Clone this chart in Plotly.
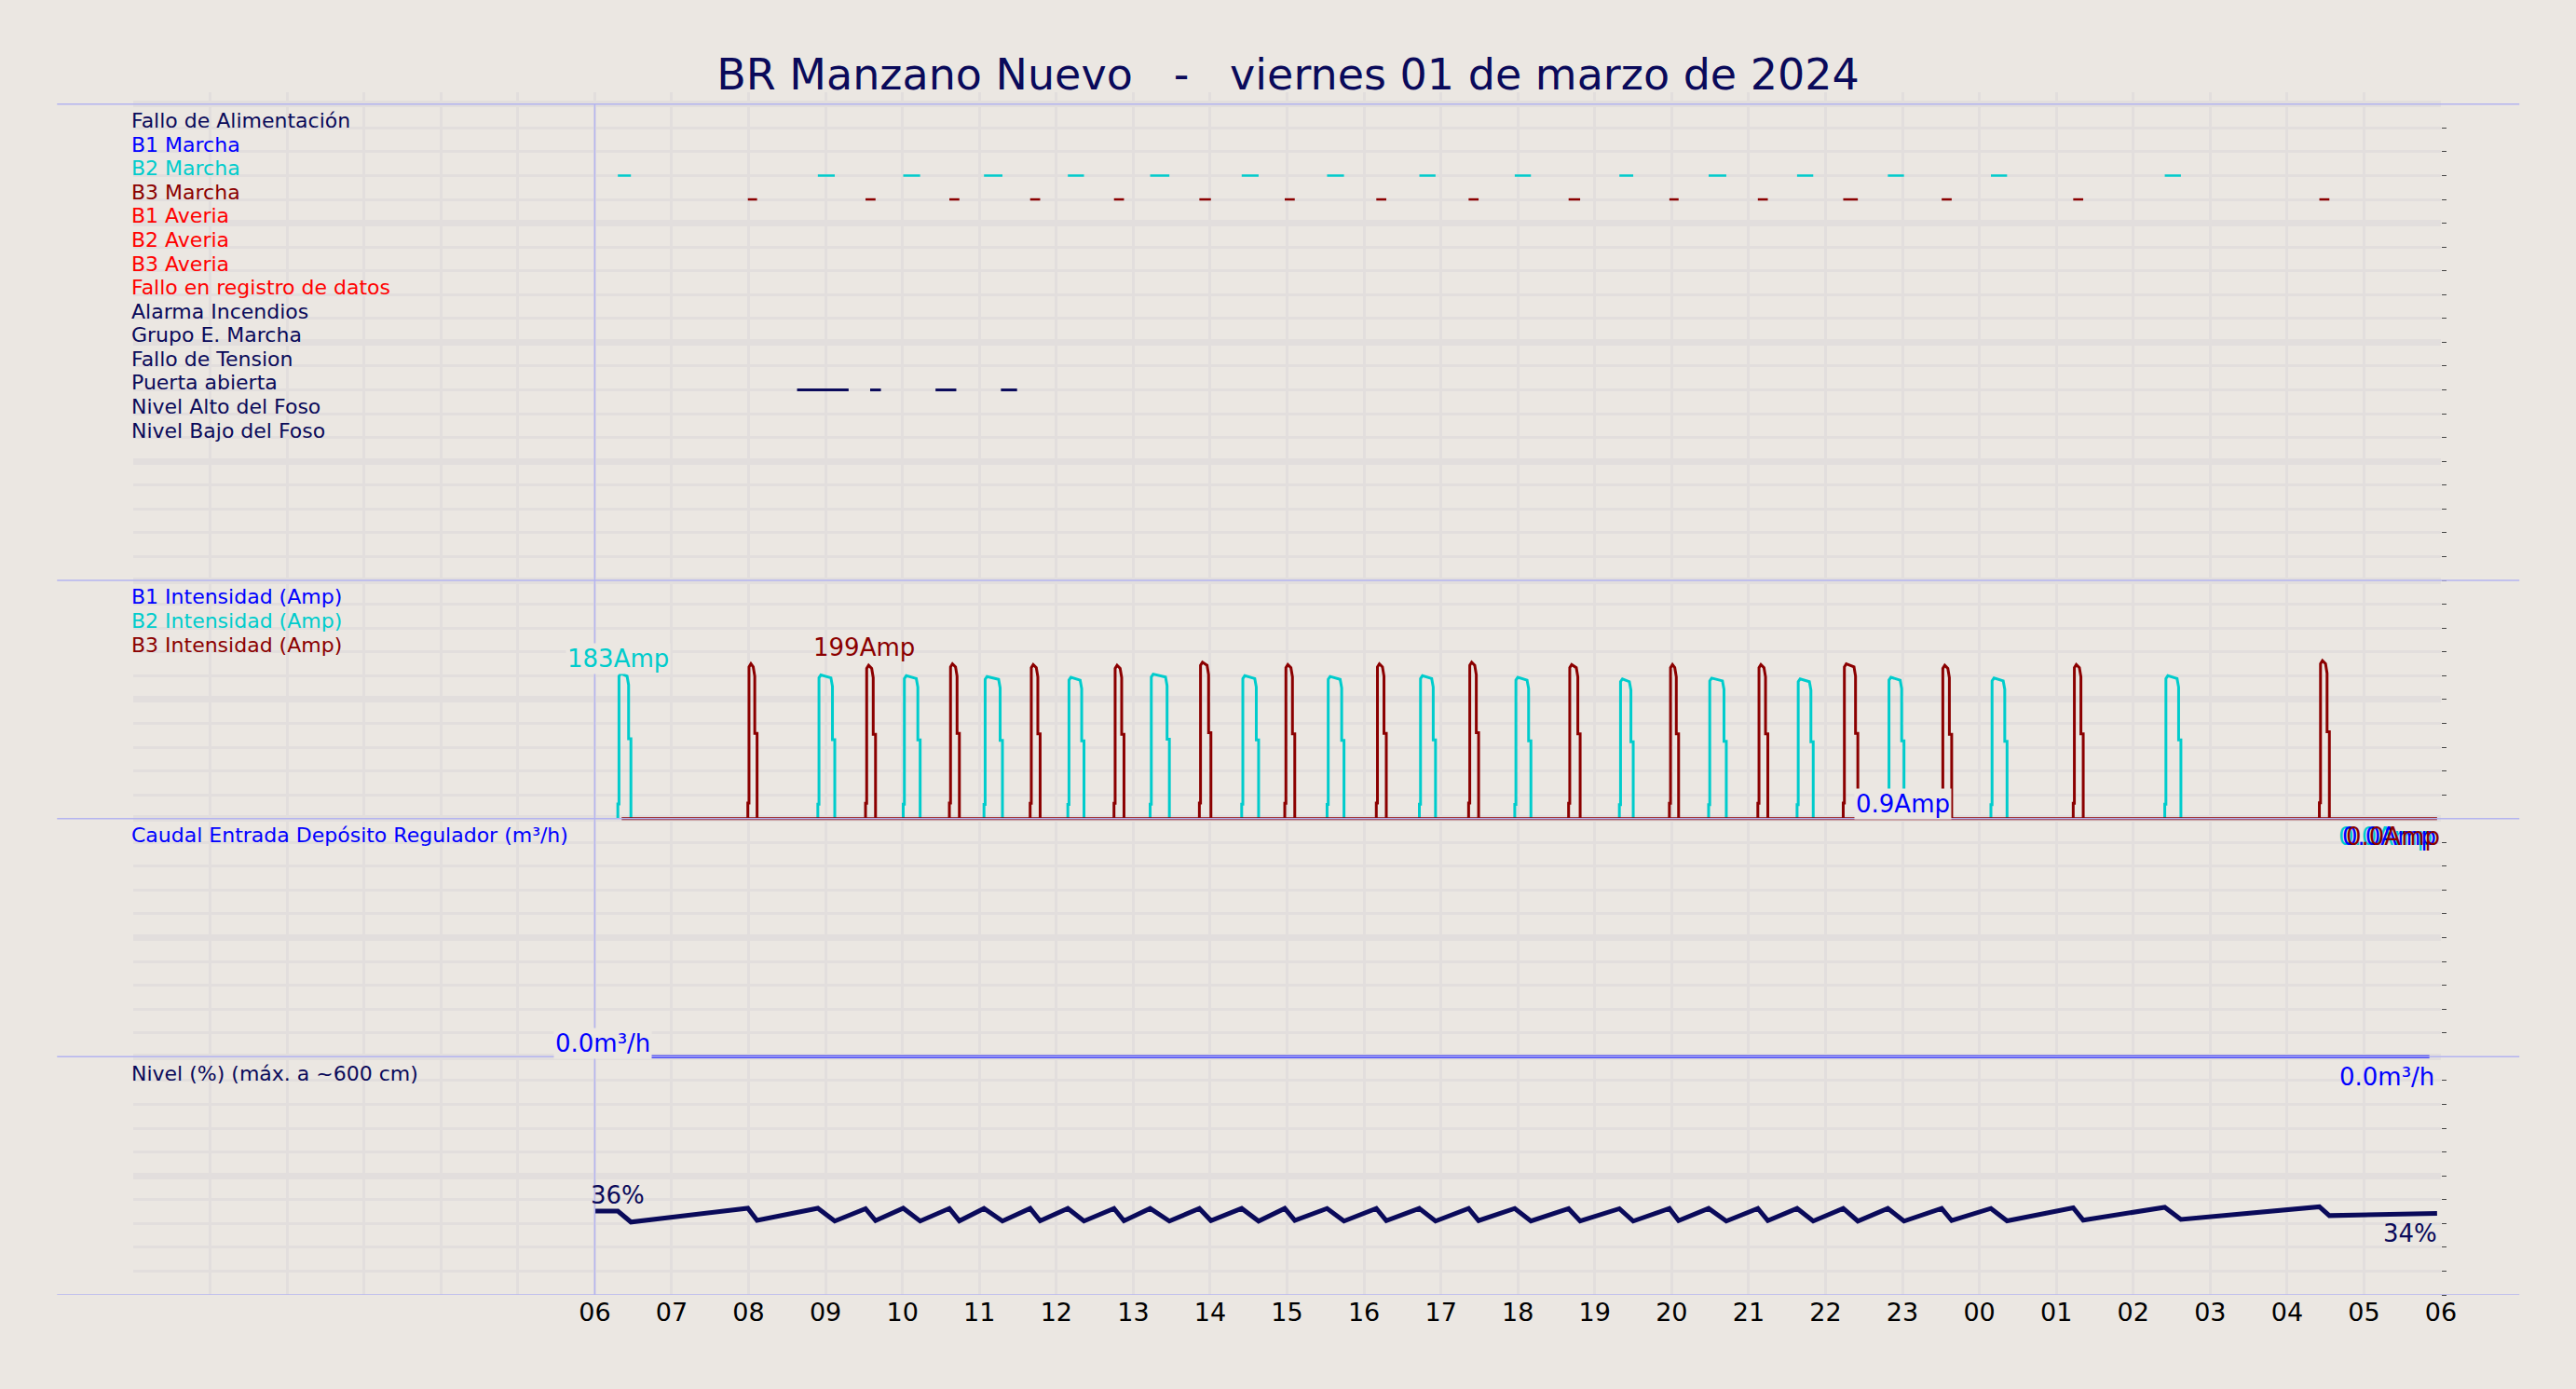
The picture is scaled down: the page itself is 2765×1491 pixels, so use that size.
import plotly.graph_objects as go

# hours counted from 00:00 of 01/03/2024 (x range 0..30)
b2_start = [6.30, 8.90, 10.01, 11.06, 12.15, 13.22, 14.41, 15.52, 16.72, 17.96, 19.32, 20.48, 21.63, 22.81, 24.15, 26.41]
b2_end = [6.47, 9.12, 10.23, 11.30, 12.36, 13.47, 14.63, 15.74, 16.93, 18.17, 19.50, 20.71, 21.84, 23.02, 24.36, 26.62]
b2_amp = [183, 181, 180, 179, 178, 182, 180, 179, 180, 178, 176, 177, 176, 178, 177, 180]

b3_start = [7.99, 9.52, 10.61, 11.66, 12.75, 13.86, 14.97, 16.16, 17.36, 18.66, 19.97, 21.12, 22.23, 23.51, 25.22, 28.42]
b3_end = [8.11, 9.65, 10.74, 11.79, 12.88, 14.01, 15.10, 16.29, 17.49, 18.81, 20.09, 21.25, 22.42, 23.64, 25.35, 28.55]
b3_amp = [195, 193, 195, 194, 193, 197, 194, 195, 197, 194, 194, 194, 195, 193, 194, 199]

puerta_start = [8.63, 9.58, 10.43, 11.28]
puerta_end = [9.30, 9.72, 10.70, 11.49]

nivel_t = [6.00, 6.30, 6.47, 7.99, 8.11, 8.90, 9.12, 9.52, 9.65, 10.01, 10.23, 10.61, 10.74, 11.06, 11.30,
           11.66, 11.79, 12.15, 12.36, 12.75, 12.88, 13.22, 13.47, 13.86, 14.01, 14.41, 14.63, 14.97, 15.10,
           15.52, 15.74, 16.16, 16.29, 16.72, 16.93, 17.36, 17.49, 17.96, 18.17, 18.66, 18.81, 19.32, 19.50,
           19.97, 20.09, 20.48, 20.71, 21.12, 21.25, 21.63, 21.84, 22.23, 22.42, 22.81, 23.02, 23.51, 23.64,
           24.15, 24.36, 25.22, 25.35, 26.41, 26.62, 28.42, 28.55, 29.95]
nivel_v = [35.2, 35.2, 30.6, 36.4, 31.3, 36.4, 31.0, 36.2, 31.2, 36.4, 31.0, 36.3, 31.1, 36.3, 31.0,
           36.3, 31.1, 36.3, 31.0, 36.3, 31.1, 36.3, 31.0, 36.3, 31.2, 36.3, 31.0, 36.3, 31.3,
           36.3, 31.0, 36.3, 31.2, 36.3, 31.0, 36.3, 31.2, 36.3, 31.0, 36.2, 31.0, 36.2, 31.0,
           36.3, 31.2, 36.3, 31.0, 36.3, 31.2, 36.3, 31.0, 36.3, 31.0, 36.3, 31.0, 36.3, 31.2,
           36.3, 31.1, 36.6, 31.4, 36.8, 31.7, 37.0, 33.3, 34.2]

caudal_t = [6.65, 29.85]
caudal_v = [0.0, 0.0]

señales = ["Fallo de Alimentación", "B1 Marcha", "B2 Marcha", "B3 Marcha", "B1 Averia", "B2 Averia",
           "B3 Averia", "Fallo en registro de datos", "Alarma Incendios", "Grupo E. Marcha",
           "Fallo de Tension", "Puerta abierta", "Nivel Alto del Foso", "Nivel Bajo del Foso"]
señal_col = ["#0a0a5a", "blue", "#00cccc", "#8b0000", "red", "red", "red", "red",
             "#0a0a5a", "#0a0a5a", "#0a0a5a", "#0a0a5a", "#0a0a5a", "#0a0a5a"]

hour_ticks = list(range(6, 31))
hour_labels = ["%02d" % (h % 24) for h in hour_ticks]

NAVY = "#0a0a5a"
CYAN = "#00cccc"
RED = "#8b0000"
BG = "#ebe7e2"
AMP_SCALE = 30.0


def pulse(starts, ends, amps):
    xs, ys = [], []
    for s, e, a in zip(starts, ends, amps):
        xs += [s, s, s + 0.015, s + 0.015, s + 0.04, e - 0.05, e - 0.03, e - 0.03, e, e, None]
        ys += [0, a * 0.1, a * 0.1, a * 0.98, a, a * 0.98, a * 0.92, a * 0.55, a * 0.55, 0, None]
    return xs, [None if y is None else 20 + y / AMP_SCALE for y in ys]


fig = go.Figure()

# signals panel
fig.add_trace(go.Scatter(x=sum([[s, e, None] for s, e in zip(b2_start, b2_end)], []),
                         y=sum([[47, 47, None] for _ in b2_start], []),
                         mode="lines", line=dict(color=CYAN, width=2.5), showlegend=False))
fig.add_trace(go.Scatter(x=sum([[s, e, None] for s, e in zip(b3_start, b3_end)], []),
                         y=sum([[46, 46, None] for _ in b3_start], []),
                         mode="lines", line=dict(color=RED, width=2.5), showlegend=False))
fig.add_trace(go.Scatter(x=sum([[s, e, None] for s, e in zip(puerta_start, puerta_end)], []),
                         y=sum([[38, 38, None] for _ in puerta_start], []),
                         mode="lines", line=dict(color=NAVY, width=3), showlegend=False))

# intensities
x2, y2 = pulse(b2_start, b2_end, b2_amp)
fig.add_trace(go.Scatter(x=x2, y=y2, mode="lines", line=dict(color=CYAN, width=3), showlegend=False))
fig.add_trace(go.Scatter(x=[6.35, 29.95], y=[20, 20], mode="lines", line=dict(color=RED, width=3), showlegend=False))
x3, y3 = pulse(b3_start, b3_end, b3_amp)
fig.add_trace(go.Scatter(x=x3, y=y3, mode="lines", line=dict(color=RED, width=3), showlegend=False))

# caudal
fig.add_trace(go.Scatter(x=caudal_t, y=[10 + v for v in caudal_v], mode="lines",
                         line=dict(color="blue", width=3), showlegend=False))

# nivel
fig.add_trace(go.Scatter(x=nivel_t, y=[v / 10 for v in nivel_v], mode="lines",
                         line=dict(color=NAVY, width=5), showlegend=False))

# panel separators and marker line at 06
for yy in [50, 30, 20, 10, 0]:
    fig.add_shape(type="line", xref="paper", yref="y", x0=-0.033, x1=1.034, y0=yy, y1=yy,
                  line=dict(color="#b4b4f0", width=1.5))
fig.add_shape(type="line", x0=6, x1=6, y0=0, y1=50, line=dict(color="#b4b4f0", width=1.5))

# labels
for i, (t, c) in enumerate(zip(señales, señal_col)):
    fig.add_annotation(x=0, y=50 - i - 0.7, text=t, showarrow=False, xanchor="left", xshift=-4,
                       font=dict(color=c, size=22))
for i, (t, c) in enumerate(zip(["B1 Intensidad (Amp)", "B2 Intensidad (Amp)", "B3 Intensidad (Amp)"],
                              ["blue", CYAN, RED])):
    fig.add_annotation(x=0, y=30 - i - 0.7, text=t, showarrow=False, xanchor="left", xshift=-4,
                       font=dict(color=c, size=22))
fig.add_annotation(x=0, y=19.3, text="Caudal Entrada Depósito Regulador (m³/h)", showarrow=False,
                   xanchor="left", xshift=-4, font=dict(color="blue", size=22))
fig.add_annotation(x=0, y=9.3, text="Nivel (%) (máx. a ~600 cm)", showarrow=False,
                   xanchor="left", xshift=-4, font=dict(color=NAVY, size=22))

vals = [(6.3, 26.7, "183Amp", CYAN, BG), (9.5, 27.2, "199Amp", RED, None),
        (23.0, 20.6, "0.9Amp", "blue", BG), (6.1, 10.55, "0.0m³/h", "blue", BG),
        (29.3, 9.15, "0.0m³/h", "blue", None), (6.3, 4.2, "36%", NAVY, None), (29.6, 2.6, "34%", NAVY, None)]
for x, y, t, c, bg in vals:
    fig.add_annotation(x=x, y=y, text=t, showarrow=False, font=dict(color=c, size=26),
                       bgcolor=bg)
for dx, c in [(0, CYAN), (0.05, "blue"), (0.1, RED)]:
    fig.add_annotation(x=29.28 + dx, y=19.25, text="0.0Amp", showarrow=False, font=dict(color=c, size=26))

fig.update_layout(
    width=2765, height=1491, paper_bgcolor=BG, plot_bgcolor=BG,
    margin=dict(l=143, r=145, t=99, b=101),
    font=dict(family="DejaVu Sans"),
    title=dict(text="BR Manzano Nuevo   -   viernes 01 de marzo de 2024", x=0.5, y=0.957,
               font=dict(size=46, color=NAVY)),
    xaxis=dict(range=[0, 30], tickvals=hour_ticks, ticktext=hour_labels, showgrid=False,
               tickfont=dict(size=27, color="black"), zeroline=False,
               minor=dict(dtick=1, tick0=0, showgrid=True, gridcolor="#e2dedd", gridwidth=3)),
    yaxis=dict(range=[0, 50.5], dtick=5, showgrid=True, gridcolor="#e2dedd", gridwidth=7,
               side="right", ticks="outside", ticklen=5, showticklabels=False, zeroline=False,
               minor=dict(dtick=1, showgrid=True, gridcolor="#e2dedd", gridwidth=3, ticks="outside", ticklen=5)),
)

fig.write_html("out.html", config={"displayModeBar": False},
               post_script="document.body.style.margin='0';document.body.style.background='%s';" % BG)
